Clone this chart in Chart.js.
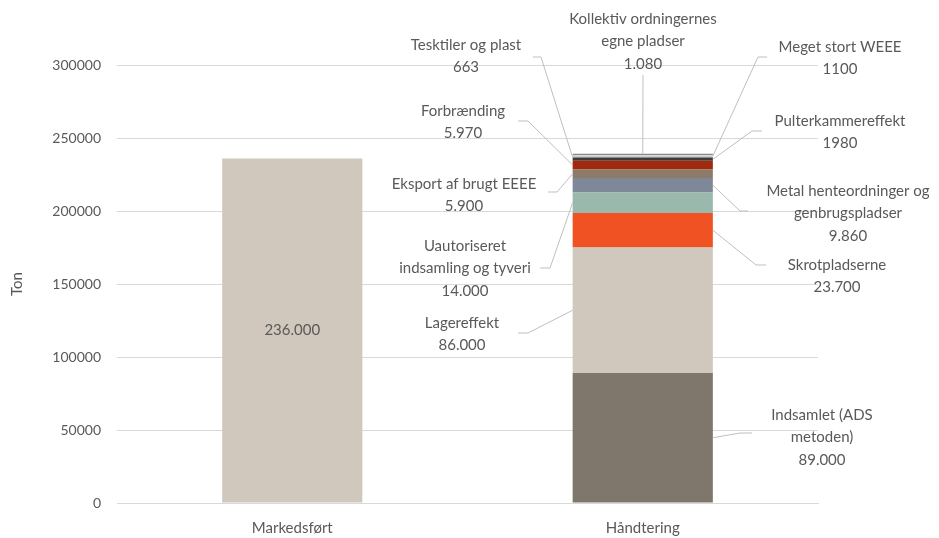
<!DOCTYPE html>
<html>
<head>
<meta charset="utf-8">
<script src="https://cdn.jsdelivr.net/npm/chart.js@4.4.1/dist/chart.umd.min.js"></script>
<style>
  html, body { margin: 0; padding: 0; background: #fff; }
  #wrap { width: 939px; height: 538px; }
</style>
</head>
<body>
<div id="wrap"><canvas id="chart"></canvas></div>
<script>
const categories = ["Markedsført", "Håndtering"];
const marketValue = 236000;
const marketLabel = "236.000";

// Håndtering segments, bottom to top
const segmentNames = [
  "Indsamlet (ADS metoden)", "Lagereffekt", "Skrotpladserne", "Uautoriseret indsamling og tyveri",
  "Metal henteordninger og genbrugspladser", "Eksport af brugt EEEE", "Forbrænding",
  "Pulterkammereffekt", "Tesktiler og plast", "Meget stort WEEE", "Kollektiv ordningernes egne pladser"
];
const segmentValues = [89000, 86000, 23700, 14000, 9860, 5900, 5970, 1980, 663, 1100, 1080];
const segmentLabels = [
  ["Indsamlet (ADS", "metoden)", "89.000"],
  ["Lagereffekt", "86.000"],
  ["Skrotpladserne", "23.700"],
  ["Uautoriseret", "indsamling og tyveri", "14.000"],
  ["Metal henteordninger og", "genbrugspladser", "9.860"],
  ["Eksport af brugt EEEE", "5.900"],
  ["Forbrænding", "5.970"],
  ["Pulterkammereffekt", "1980"],
  ["Tesktiler og plast", "663"],
  ["Meget stort WEEE", "1100"],
  ["Kollektiv ordningernes", "egne pladser", "1.080"]
];
const yTicks = [0, 50000, 100000, 150000, 200000, 250000, 300000];

const segmentColors = ["#7f766c", "#d0c8bd", "#f05223", "#9bb8ad", "#7e8898", "#8b7b68",
  "#a0290e", "#3c3c3c", "#8c8a84", "#dcd6cd", "#7f8c99"];
const marketColor = "#d0c8bd";
const textColor = "#595959";
const FONT = "Lato, 'Open Sans', sans-serif";

// callout layout: text centre x, first line y, leader path after bar anchor
const callouts = [
  { side: "right", cx: 822, y0: 415, path: [[740, 433], [752, 433]] },
  { side: "left", cx: 462, y0: 323, path: [[528, 333], [518, 333]] },
  { side: "right", cx: 837, y0: 265, path: [[756, 265], [766, 265]] },
  { side: "left", cx: 465, y0: 246, path: [[550, 268], [540, 268]] },
  { side: "right", cx: 848, y0: 191, path: [[740, 211], [748, 211]] },
  { side: "left", cx: 464, y0: 184, path: [[557, 192], [548, 192]] },
  { side: "left", cx: 463, y0: 111, path: [[528, 121], [518, 121]] },
  { side: "right", cx: 840, y0: 121, path: [[752, 131], [762, 131]] },
  { side: "left", cx: 466, y0: 45, path: [[541, 57], [533, 57]] },
  { side: "right", cx: 840, y0: 47, path: [[758, 57], [767, 57]] },
  { side: "top", cx: 643, y0: 19, path: [[643, 75]] }
];

const datasets = [{
  label: "Markedsført",
  data: [marketValue, null],
  backgroundColor: marketColor,
  stack: "s"
}];
segmentNames.forEach((name, i) => {
  datasets.push({
    label: name,
    data: [null, segmentValues[i]],
    backgroundColor: segmentColors[i],
    stack: "s"
  });
});

const calloutPlugin = {
  id: "callouts",
  afterDatasetsDraw(chart) {
    const ctx = chart.ctx;
    ctx.save();
    ctx.font = "15px " + FONT;
    ctx.fillStyle = textColor;
    ctx.textAlign = "center";
    ctx.textBaseline = "middle";

    // value inside Markedsført
    const mBar = chart.getDatasetMeta(0).data[0];
    ctx.fillText(marketLabel, mBar.x, (mBar.y + mBar.base) / 2);

    segmentLabels.forEach((lines, i) => {
      const bar = chart.getDatasetMeta(i + 1).data[1];
      const c = callouts[i];
      const half = bar.width / 2;
      let ax, ay;
      if (c.side === "left") { ax = bar.x - half; ay = (bar.y + bar.base) / 2; }
      else if (c.side === "right") { ax = bar.x + half; ay = (bar.y + bar.base) / 2; }
      else { ax = bar.x; ay = bar.y; }
      ctx.strokeStyle = "#bfbfbf";
      ctx.lineWidth = 1;
      ctx.beginPath();
      ctx.moveTo(ax, ay);
      c.path.forEach(p => ctx.lineTo(p[0], p[1]));
      ctx.stroke();
      lines.forEach((t, k) => ctx.fillText(t, c.cx, c.y0 + k * 22.5));
    });
    ctx.restore();
  }
};

new Chart(document.getElementById("chart"), {
  type: "bar",
  data: { labels: categories, datasets: datasets },
  options: {
    responsive: true,
    maintainAspectRatio: false,
    animation: false,
    layout: { padding: { top: 65, right: 121, left: 0, bottom: 0 } },
    plugins: { legend: { display: false }, tooltip: { enabled: false } },
    datasets: { bar: { categoryPercentage: 1, barPercentage: 0.4 } },
    scales: {
      x: {
        stacked: true,
        grid: { display: false },
        border: { color: "#d9d9d9" },
        ticks: { color: textColor, font: { family: FONT, size: 15 }, padding: 8 },
        afterFit: s => { s.height = 35; }
      },
      y: {
        stacked: true,
        min: 0,
        max: 300000,
        afterBuildTicks: s => { s.ticks = yTicks.map(v => ({ value: v })); },
        grid: { color: "#d9d9d9", drawTicks: false },
        border: { display: false },
        ticks: { color: textColor, font: { family: FONT, size: 14 }, padding: 16, callback: v => String(v) },
        title: { display: true, text: "Ton", color: textColor, font: { family: FONT, size: 15 }, padding: { top: 8, bottom: 0 } },
        afterFit: s => { s.width = 117; }
      }
    }
  },
  plugins: [calloutPlugin]
});
</script>
</body>
</html>
